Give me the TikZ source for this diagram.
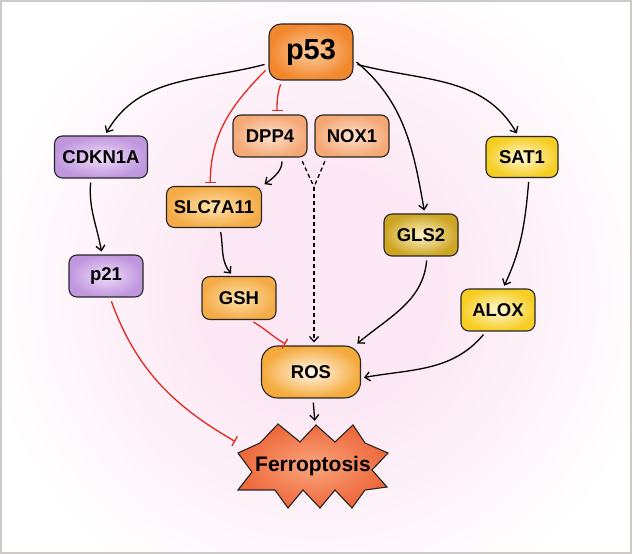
\documentclass[tikz,border=0pt]{standalone}
\usepackage{fontspec}
\setmainfont{Liberation Sans}
\usepackage{tikz}
\usetikzlibrary{
  arrows.meta,
  calc,
  positioning,
  shadings
}
\definecolor{bgpink}{RGB}{252,232,244}
\definecolor{framegray}{RGB}{205,202,202}
\definecolor{inhred}{RGB}{228,40,30}
\definecolor{pOut}{RGB}{242,135,45}
\definecolor{pIn}{RGB}{253,205,160}
\definecolor{dOut}{RGB}{244,168,118}
\definecolor{dIn}{RGB}{254,225,205}
\definecolor{sOut}{RGB}{245,172,72}
\definecolor{sIn}{RGB}{254,225,170}
\definecolor{rOut}{RGB}{245,170,60}
\definecolor{rIn}{RGB}{255,248,235}
\definecolor{vOut}{RGB}{192,150,222}
\definecolor{vIn}{RGB}{238,220,248}
\definecolor{yOut}{RGB}{246,206,35}
\definecolor{yIn}{RGB}{255,248,215}
\definecolor{gOut}{RGB}{205,165,35}
\definecolor{gIn}{RGB}{255,243,200}
\definecolor{fOut}{RGB}{238,105,60}
\definecolor{fIn}{RGB}{250,165,125}
\pgfdeclareradialshading{bgglow}{\pgfpoint{0bp}{0bp}}{%
  color(0bp)=(bgpink); color(9bp)=(bgpink); color(25bp)=(white); color(50bp)=(white)}
\tikzset{
  >={Straight Barb[length=5pt,width=9pt]},
  line cap=round,
  line join=round,
  gene/.style={draw=black!85, line width=1.1pt, rounded corners=8pt,
    minimum width=74pt, minimum height=42pt, inner sep=2pt, align=center,
    font=\bfseries\fontsize{18.5}{20}\selectfont},
  orangebox/.style={gene, inner color=pIn, outer color=pOut},
  salmonbox/.style={gene, inner color=dIn, outer color=dOut},
  amberbox/.style={gene, inner color=sIn, outer color=sOut},
  rosbox/.style={gene, inner color=rIn, outer color=rOut, rounded corners=16pt},
  purplebox/.style={gene, inner color=vIn, outer color=vOut},
  yellowbox/.style={gene, inner color=yIn, outer color=yOut},
  goldbox/.style={gene, inner color=gIn, outer color=gOut},
  arrow/.style={->, line width=1.3pt, shorten <=4pt, shorten >=3pt},
  dashedarrow/.style={arrow, dash pattern=on 4pt off 3pt},
  inhibit/.style={-{Bar[width=11pt,line width=1.3pt]}, draw=inhred, line width=1.3pt,
    shorten <=4pt, shorten >=3pt}
}
\begin{document}
\begin{tikzpicture}[x=1pt,y=1pt]
    % frame and glow
    \useasboundingbox (0,0) rectangle (632,554);
    \begin{scope}
      \clip (1,1) rectangle (631,553);
      \fill[white] (0,0) rectangle (632,554);
      \shade[shading=bgglow] (320,264) circle (340);
    \end{scope}
    \draw[framegray, line width=1.3pt] (1,1) rectangle (631,553);

    % genes
    \node[orangebox, minimum width=84pt, minimum height=56pt, rounded corners=12pt,
      font=\bfseries\fontsize{29}{32}\selectfont] (p53) at (311,502) {p53};
    \node[salmonbox] (DPP4) at (270,418) {DPP4};
    \node[salmonbox] (NOX1) at (352,418) {NOX1};
    \node[amberbox, minimum width=95pt, minimum height=41pt] (SLC7A11) at (214,347) {SLC7A11};
    \node[amberbox, minimum height=43pt] (GSH) at (239,256) {GSH};
    \node[rosbox, minimum width=99pt, minimum height=52pt] (ROS) at (311,182) {ROS};
    \node[purplebox, minimum width=93pt] (CDKN1A) at (101,397) {CDKN1A};
    \node[purplebox] (p21) at (106,278) {p21};
    \node[yellowbox, minimum width=72pt, minimum height=41pt] (SAT1) at (522,397) {SAT1};
    \node[goldbox] (GLS2) at (421,319) {GLS2};
    \node[yellowbox] (ALOX) at (498,244) {ALOX};

    % ferroptosis burst
    \coordinate (fc) at (313,88);
    \filldraw[draw=black!85, line width=1.1pt, inner color=fIn, outer color=fOut, shift={(fc)}]
      (-35,42) -- (-13,24) -- (3,41) -- (22,24) -- (40,41) -- (52,23) -- (75,13)
      -- (59,-4) -- (74,-21) -- (52,-24) -- (39,-42) -- (22,-24) -- (7,-42)
      -- (-10,-24) -- (-25,-42) -- (-38,-24) -- (-75,-24) -- (-61,-6) -- (-75,13)
      -- (-53,23) -- cycle;
    \node[minimum width=150pt, minimum height=84pt, inner sep=0pt,
      font=\bfseries\fontsize{21}{24}\selectfont] (ferro) at (fc) {Ferroptosis};

    % p53 targets
    \draw[arrow] (p53.195) to[out=195, in=60] (CDKN1A.80);
    \draw[arrow] (p53.-15) to[out=-15, in=120] (SAT1.100);
    \draw[arrow] (p53.-10) to[out=-40, in=100] (GLS2.80);
    \draw[inhibit] (p53.200) to[out=225, in=90] (SLC7A11.100);
    \draw[inhibit] ([xshift=-29pt]p53.south) to[out=-110, in=90] ([xshift=7pt]DPP4.north);

    % middle branch
    \draw[arrow] ([xshift=12pt]DPP4.south) to[out=-90, in=35] (SLC7A11.north east);
    \coordinate (merge) at (314,367);
    \draw[line width=1.3pt, dash pattern=on 4pt off 3pt, shorten <=4pt]
      ([xshift=-7pt]DPP4.south east) -- (merge);
    \draw[line width=1.3pt, dash pattern=on 4pt off 3pt, shorten <=4pt]
      ([xshift=12pt]NOX1.south west) -- (merge);
    \draw[dashedarrow, shorten <=0pt] (merge) -- ([xshift=3pt]ROS.north);
    \draw[arrow] ([xshift=6pt]SLC7A11.south) to[out=-80, in=130] ([xshift=-6pt]GSH.north);
    \draw[inhibit] ([xshift=11pt]GSH.south) to[out=-30, in=150] ([xshift=-23pt]ROS.north);

    % right branch
    \draw[arrow] ([xshift=6pt]GLS2.south) to[out=-95, in=40] ([xshift=-6pt]ROS.north east);
    \draw[arrow] (SAT1.south) ++(7,0) to[out=-95, in=65] ([xshift=5pt]ALOX.north);
    \draw[arrow] ([xshift=-12pt]ALOX.south) to[out=-130, in=10] ([yshift=-6pt]ROS.east);

    % left branch
    \draw[arrow] ([xshift=-10pt]CDKN1A.south) to[out=-95, in=100] ([xshift=-4pt]p21.north);
    \draw[inhibit] ([xshift=4pt]p21.south) to[out=-70, in=150] (ferro.163);

    % to ferroptosis
    \draw[arrow] ([xshift=2pt]ROS.south) -- ([xshift=2pt]ferro.north);
\end{tikzpicture}
\end{document}
